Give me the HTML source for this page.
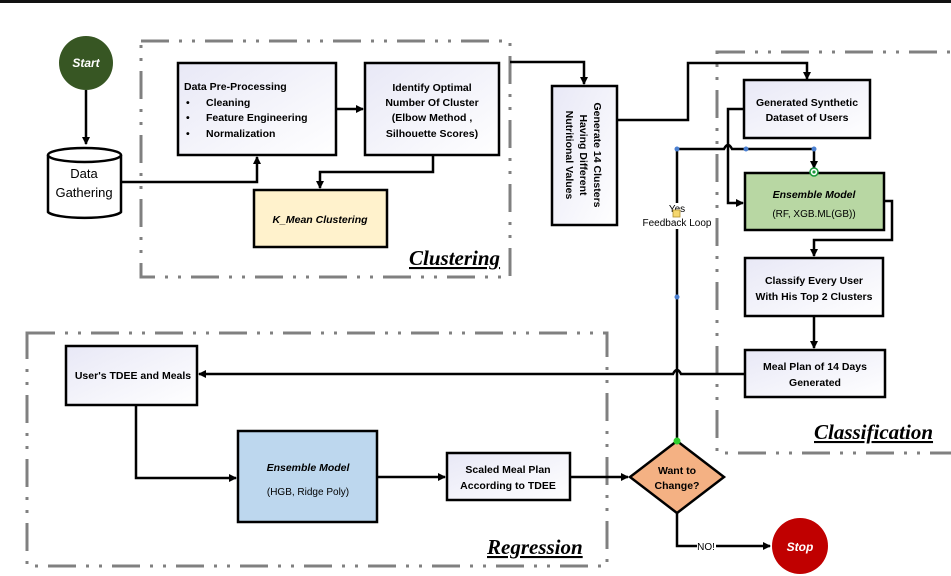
<!DOCTYPE html>
<html><head><meta charset="utf-8"><style>
html,body{margin:0;padding:0;background:#fff;width:951px;height:576px;overflow:hidden}
svg{display:block}
.t{font-family:"Liberation Sans",sans-serif;font-weight:bold;font-size:10.5px;fill:#000}
.n{font-family:"Liberation Sans",sans-serif;font-size:10px;fill:#000}
.h{font-family:"Liberation Serif",serif;font-weight:bold;font-style:italic;font-size:21px;text-decoration:underline;fill:#000}
</style></head><body>
<svg width="951" height="576" viewBox="0 0 951 576" xmlns="http://www.w3.org/2000/svg">
<defs>
<linearGradient id="g" x1="0" y1="0" x2="1" y2="1"><stop offset="0" stop-color="#e8e8f6"/><stop offset="1" stop-color="#ffffff"/></linearGradient>
<marker id="a" markerWidth="8" markerHeight="8" refX="7" refY="4" orient="auto" markerUnits="userSpaceOnUse"><path d="M0,0 L8,4 L0,8 z" fill="#000"/></marker>
</defs>
<rect x="0" y="0" width="951" height="3" fill="#111"/>
<g fill="none" stroke="#808080" stroke-width="3" stroke-dasharray="28,10,3,10,3,10">
<rect x="141" y="41" width="369" height="236"/>
<rect x="717" y="52" width="240" height="401"/>
<rect x="27" y="333" width="580" height="233"/>
</g>
<text class="h" x="409" y="265">Clustering</text>
<text class="h" x="814" y="439">Classification</text>
<text class="h" x="487" y="554">Regression</text>

<g stroke="#000" stroke-width="2.5" fill="none">
<line x1="86" y1="90" x2="86" y2="144" marker-end="url(#a)"/>
<polyline points="121,182 257,182 257,157" marker-end="url(#a)"/>
<line x1="336" y1="109" x2="363" y2="109" marker-end="url(#a)"/>
<polyline points="433,155 433,172 320,172 320,188" marker-end="url(#a)"/>
<polyline points="510,62 584,62 584,84" marker-end="url(#a)"/>
<polyline points="618,120 688,120 688,63 807,63 807,79" marker-end="url(#a)"/>
<polyline points="744,109 728,109 728,203 743,203" marker-end="url(#a)"/>
<path d="M677,441 L677,149 L724,149 q4,-8 8,0 L814,149 L814,168" marker-end="url(#a)"/>
<polyline points="884,201 892,201 892,240 814,240 814,256" marker-end="url(#a)"/>
<line x1="814" y1="316" x2="814" y2="348" marker-end="url(#a)"/>
<path d="M745,374 L681,374 q-4,-8 -8,0 L199,374" marker-end="url(#a)"/>
<polyline points="136,405 136,478 236,478" marker-end="url(#a)"/>
<line x1="377" y1="477" x2="445" y2="477" marker-end="url(#a)"/>
<line x1="570" y1="477" x2="628" y2="477" marker-end="url(#a)"/>
<polyline points="677,513 677,546 697,546"/>
<line x1="716" y1="546" x2="770" y2="546" marker-end="url(#a)"/>
</g>

<circle cx="86" cy="63" r="27" fill="#375623"/>
<text x="86" y="67" text-anchor="middle" font-family="Liberation Sans,sans-serif" font-weight="bold" font-style="italic" font-size="12" fill="#fff">Start</text>

<path d="M48,155 L48,212 A37,7 0 0 0 121,212 L121,155" fill="#fff" stroke="#000" stroke-width="2.5"/>
<ellipse cx="84.5" cy="155" rx="36.5" ry="7" fill="#fff" stroke="#000" stroke-width="2.5"/>
<text x="84" y="178" text-anchor="middle" font-family="Liberation Sans,sans-serif" font-size="13">Data</text>
<text x="84" y="197" text-anchor="middle" font-family="Liberation Sans,sans-serif" font-size="13">Gathering</text>

<g stroke="#000" stroke-width="2.5">
<rect x="178" y="63" width="158" height="92" fill="url(#g)"/>
<rect x="365" y="63" width="134" height="92" fill="url(#g)"/>
<rect x="254" y="190" width="133" height="57" fill="#fff2cc"/>
<rect x="552" y="86" width="65" height="139" fill="url(#g)"/>
<rect x="744" y="80" width="126" height="58" fill="url(#g)"/>
<rect x="745" y="173" width="139" height="57" fill="#b8d7a3"/>
<rect x="745" y="258" width="138" height="58" fill="url(#g)"/>
<rect x="745" y="350" width="140" height="47" fill="url(#g)"/>
<rect x="66" y="346" width="131" height="59" fill="url(#g)"/>
<rect x="238" y="431" width="139" height="91" fill="#bdd7ee"/>
<rect x="447" y="453" width="123" height="47" fill="url(#g)"/>
<polygon points="677,441 724,477 677,513 630,477" fill="#f4b183"/>
</g>

<text class="t" x="184" y="90">Data Pre-Processing</text>
<text class="t" x="186" y="106">•</text><text class="t" x="206" y="106">Cleaning</text>
<text class="t" x="186" y="121">•</text><text class="t" x="206" y="121">Feature Engineering</text>
<text class="t" x="186" y="137">•</text><text class="t" x="206" y="137">Normalization</text>
<g text-anchor="middle">
<text class="t" x="432" y="91">Identify Optimal</text>
<text class="t" x="432" y="106">Number Of Cluster</text>
<text class="t" x="432" y="121">(Elbow Method ,</text>
<text class="t" x="432" y="137">Silhouette Scores)</text>
<text class="t" x="320" y="223" font-style="italic" font-size="12">K_Mean Clustering</text>
<g transform="translate(584,155) rotate(90)">
<text class="t" x="0" y="-10">Generate 14 Clusters</text>
<text class="t" x="0" y="4">Having Different</text>
<text class="t" x="0" y="18">Nutritional Values</text>
</g>
<text class="t" x="807" y="106">Generated Synthetic</text>
<text class="t" x="807" y="121">Dataset of Users</text>
<text class="t" x="814" y="198" font-style="italic" font-size="14">Ensemble Model</text>
<text class="n" x="814" y="217">(RF, XGB.ML(GB))</text>
<text class="t" x="814" y="284">Classify Every User</text>
<text class="t" x="814" y="300">With His Top 2 Clusters</text>
<text class="t" x="815" y="370">Meal Plan of 14 Days</text>
<text class="t" x="815" y="386">Generated</text>
<text class="t" x="133" y="379">User's TDEE and Meals</text>
<text class="t" x="308" y="471" font-style="italic" font-size="14">Ensemble Model</text>
<text class="n" x="308" y="495" font-size="9">(HGB, Ridge Poly)</text>
<text class="t" x="508" y="473">Scaled Meal Plan</text>
<text class="t" x="508" y="489">According to TDEE</text>
<text class="t" x="677" y="474">Want to</text>
<text class="t" x="677" y="489">Change?</text>
<rect x="642" y="203" width="70" height="26" fill="#fff"/>
<text class="n" x="677" y="212">Yes</text>
<text class="n" x="677" y="226">Feedback Loop</text>
</g>
<rect x="673" y="210" width="7" height="7" fill="#f5d76e" stroke="#b09030" stroke-width="0.8"/>
<circle cx="677" cy="149" r="2.5" fill="#4a7fd0"/>
<circle cx="746" cy="149" r="2.5" fill="#4a7fd0"/>
<circle cx="814" cy="149" r="2.5" fill="#4a7fd0"/>
<circle cx="677" cy="297" r="2.5" fill="#4a7fd0"/>
<circle cx="814" cy="172" r="4" fill="#fff" stroke="#1a9a3a" stroke-width="1.5"/><circle cx="814" cy="172" r="1.6" fill="#1a9a3a"/>
<circle cx="677" cy="441" r="3.5" fill="#2fcf2f"/>
<rect x="697" y="540" width="19" height="12" fill="#fff"/>
<text class="n" x="706" y="550" text-anchor="middle">NO!</text>
<circle cx="800" cy="546" r="28" fill="#c00000"/>
<text x="800" y="551" text-anchor="middle" font-family="Liberation Sans,sans-serif" font-weight="bold" font-style="italic" font-size="12" fill="#fff">Stop</text>
</svg>
</body></html>
